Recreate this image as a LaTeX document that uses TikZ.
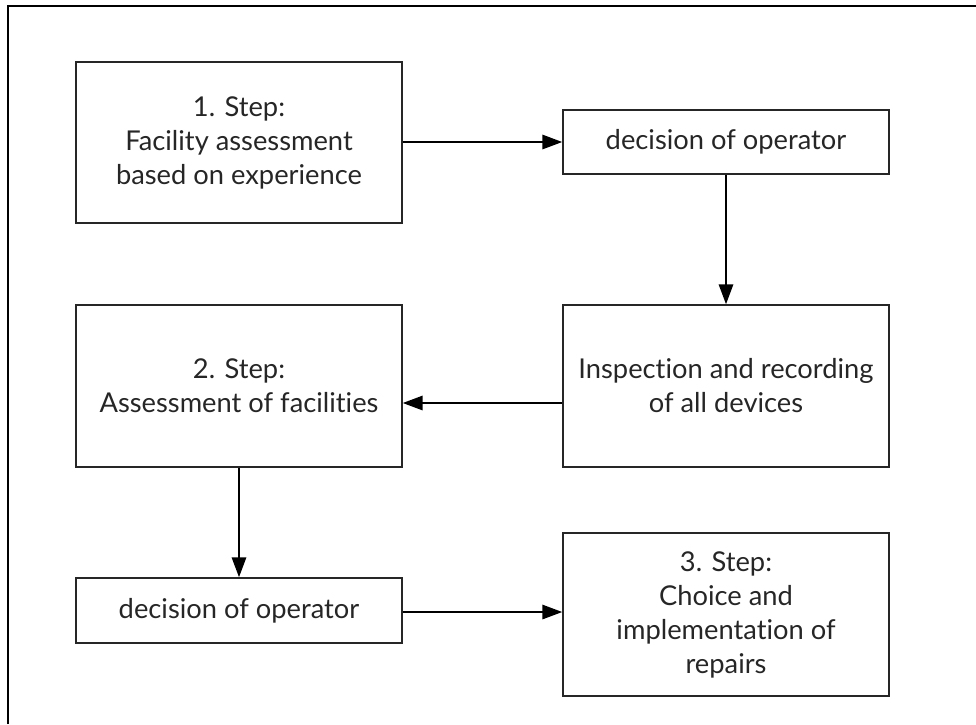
\documentclass[tikz,border=0pt]{standalone}
\usepackage{fontspec}
\setmainfont[Ligatures=NoCommon]{Lato}
\usetikzlibrary{arrows.meta}
\begin{document}
\begin{tikzpicture}[x=1pt,y=-1pt,
  box/.style={draw=black!85,line width=1.2pt,minimum width=326pt,align=center,
    font=\fontsize{27.3}{34}\selectfont,text=black!85,inner sep=0pt},
  arr/.style={line width=2.9pt,-{Triangle[length=20pt,width=14pt]}},
  frame/.style={line width=2.2pt}]
\useasboundingbox (0,0) rectangle (976,724);
\draw[frame] (8,724) -- (8,6) -- (976,6);
\node[box,minimum height=161pt] (s1) at (239,142.5) {1. Step:\\Facility assessment\\based on experience};
\node[box,minimum height=64pt] (d1) at (726,142) {decision of operator};
\node[box,minimum height=162pt] (in) at (726,386) {Inspection and recording\\of all devices};
\node[box,minimum height=162pt] (s2) at (239,386) {2. Step:\\Assessment of facilities};
\node[box,minimum height=65pt] (d2) at (239,610.5) {decision of operator};
\node[box,minimum height=163pt] (s3) at (726,614.5) {3. Step:\\Choice and\\implementation of\\repairs};
\draw[arr] (s1.east |- d1.west) -- (d1.west);
\draw[arr] (d1.south) -- (in.north);
\draw[arr] ([yshift=-17pt]in.west) -- ([yshift=-17pt]in.west -| s2.east);
\draw[arr] (s2.south) -- (d2.north);
\draw[arr] ([yshift=-1.5pt]d2.east) -- ([yshift=-1.5pt]d2.east -| s3.west);
\end{tikzpicture}
\end{document}
